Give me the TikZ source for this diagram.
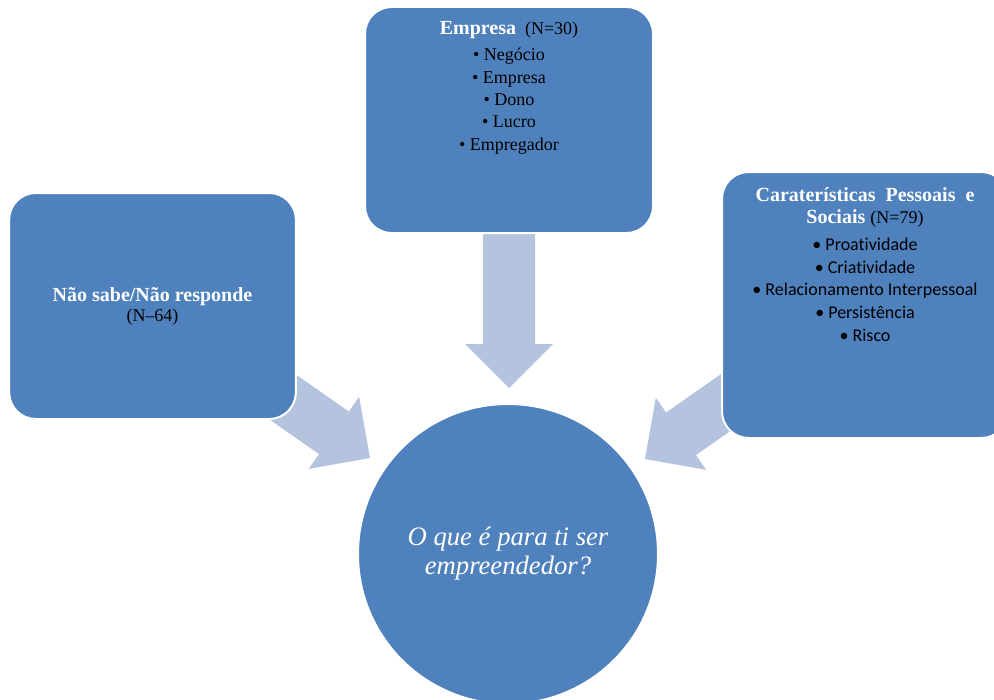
\documentclass[tikz,border=0pt]{standalone}
\usepackage{fontspec}
\setmainfont{Liberation Serif}
\newfontfamily\calibri[Ligatures=NoCommon]{Carlito}
\usetikzlibrary{positioning,calc,backgrounds}
\definecolor{boxblue}{RGB}{79,129,189}
\definecolor{arrowblue}{RGB}{180,196,222}
% fat block arrow from #1 (tail) to #2 (tip)
\newcommand{\blockarrow}[2]{%
  \fill[arrowblue] ($(#1)!19.5pt!90:(#2)$) -- ($(#2)!33pt!(#1)!19.5pt!-90:(#1)$)
    -- ($(#2)!33pt!(#1)!33pt!-90:(#1)$) -- (#2)
    -- ($(#2)!33pt!(#1)!33pt!90:(#1)$) -- ($(#2)!33pt!(#1)!19.5pt!90:(#1)$)
    -- ($(#1)!19.5pt!-90:(#2)$) -- cycle;}

\begin{document}
\begin{tikzpicture}[x=0.75pt,y=-0.75pt,every node/.style={inner sep=0pt},
    block/.style={rectangle,rounded corners=20pt,fill=boxblue,draw=white,line width=1.5pt},
    bullets/.style={align=center,font=\fontsize{13.5}{16.7}\selectfont}]
  \useasboundingbox (0,0) rectangle (994,699);

  \node[block,minimum width=216pt,minimum height=169.5pt] (empresa) at (509,120) {};
  \node[block,minimum width=215pt,minimum height=169.5pt,align=center,
    font=\fontsize{13.5}{15}\selectfont] (naosabe) at (152.5,306)
    {\textcolor{white}{\fontsize{15}{15}\selectfont\bfseries Não sabe/Não responde}\\(N–64)};
  \node[block,minimum width=214.5pt,minimum height=199.5pt] (pessoais) at (865,305) {};
  \node[circle,fill=boxblue,draw=white,line width=1.5pt,minimum size=225pt,align=center,
    text=white,font=\fontsize{20}{21.75}\selectfont\itshape] (pergunta) at (508,554)
    {O que é para ti ser\\empreendedor?};

  % texts in the boxes
  \node[bullets,below=11pt of empresa.north] (empresatxt)
    {\textcolor{white}{\fontsize{15}{16.7}\selectfont\bfseries Empresa}\ \ (N=30)\\[3.5pt]
     • Negócio\\ • Empresa\\ • Dono\\ • Lucro\\ • Empregador};
  \node[bullets,font=\fontsize{15}{17}\selectfont,below=12pt of pessoais.north] (pessoaistxt)
    {\textcolor{white}{\bfseries Caraterísticas\ \ Pessoais\ \ e}\\
     \textcolor{white}{\bfseries Sociais} {\fontsize{13.5}{17}\selectfont(N=79)}\\[3pt]
     {\calibri\fontsize{13.5}{17}\selectfont • Proatividade}\\
     {\calibri\fontsize{13.5}{17}\selectfont • Criatividade}\\
     {\calibri\fontsize{13.5}{17}\selectfont • Relacionamento Interpessoal}\\
     {\calibri\fontsize{13.5}{17}\selectfont • Persistência}\\
     {\calibri\fontsize{13.5}{17}\selectfont • Risco}};

  % arrows behind the boxes
  \coordinate (tipdown) at (509,388);
  \coordinate (tipleft) at (370,458);
  \coordinate (tipright) at (645,459);
  \begin{scope}[on background layer]
    \blockarrow{empresa.center}{tipdown}
    \blockarrow{naosabe.center}{tipleft}
    \blockarrow{pessoais.center}{tipright}
  \end{scope}
\end{tikzpicture}
\end{document}
